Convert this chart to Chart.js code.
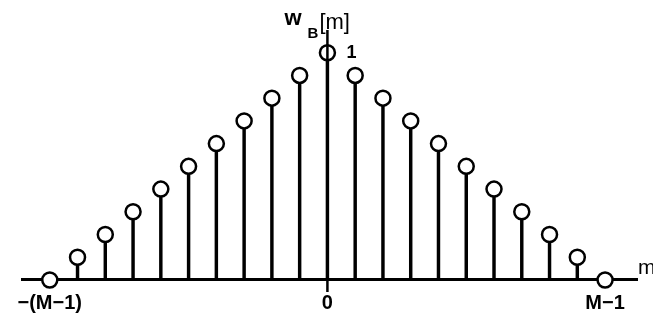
<!DOCTYPE html>
<html>
<head>
<meta charset="utf-8">
<script src="https://cdn.jsdelivr.net/npm/chart.js@4/dist/chart.umd.min.js"></script>
<style>
    body { margin: 0; background: #fff; }
    #wrap { width: 653px; height: 325px; }
</style>
</head>
<body>
<div id="wrap"><canvas id="wChart" width="653" height="325"></canvas></div>
<script>
// Bartlett window w_B[m], M = 11
const mValues = [-10, -9, -8, -7, -6, -5, -4, -3, -2, -1, 0, 1, 2, 3, 4, 5, 6, 7, 8, 9, 10];
const wValues = [0, 0.1, 0.2, 0.3, 0.4, 0.5, 0.6, 0.7, 0.8, 0.9, 1, 0.9, 0.8, 0.7, 0.6, 0.5, 0.4, 0.3, 0.2, 0.1, 0];
const tickPositions = [-10, 0, 10];
const tickLabels = ['\u2212(M\u22121)', '0', 'M\u22121'];

const font = '"Liberation Sans", Arial, sans-serif';

function points() {
    let pts = [];
    for (let i = 0; i < mValues.length; i++) {
        pts.push({x: mValues[i], y: wValues[i]});
    }
    return pts;
}

// vertical axis, axis titles and the "1" label
const axisExtras = {
    id: 'axisExtras',
    afterDatasetsDraw(chart) {
        const ctx = chart.ctx;
        const xs = chart.scales.x;
        const ys = chart.scales.y;
        const area = chart.chartArea;
        const x0 = xs.getPixelForValue(0);

        ctx.save();
        ctx.strokeStyle = '#000';
        ctx.lineWidth = 2.5;
        ctx.beginPath();
        ctx.moveTo(x0, area.top);
        ctx.lineTo(x0, area.bottom);
        ctx.stroke();

        ctx.fillStyle = '#000';
        ctx.textBaseline = 'alphabetic';
        ctx.textAlign = 'left';
        ctx.font = 'bold 22px ' + font;
        ctx.fillText('w', x0 - 43, 25);
        ctx.font = 'bold 15px ' + font;
        ctx.fillText('B', x0 - 20, 38);
        ctx.font = '22px ' + font;
        ctx.fillText('[m]', x0 - 8, 29);

        ctx.font = 'bold 18px ' + font;
        ctx.textBaseline = 'middle';
        ctx.fillText('1', x0 + 19, ys.getPixelForValue(1));

        ctx.font = '21px ' + font;
        ctx.textBaseline = 'alphabetic';
        ctx.fillText('m', area.right + 1, ys.getPixelForValue(0) - 6);
        ctx.restore();
    }
};

const data = {
    datasets: [{
            type: 'scatter',
            label: 'samples',
            data: points(),
            pointStyle: 'circle',
            pointRadius: 7.5,
            pointBorderWidth: 2.5,
            pointBorderColor: '#000',
            pointBackgroundColor: '#fff',
            order: 0
        }, {
            type: 'bar',
            label: 'stems',
            data: points(),
            backgroundColor: '#000',
            barThickness: 2.8,
            order: 1
        }]
};

const config = {
    data: data,
    options: {
        responsive: false,
        animation: false,
        layout: {padding: {left: 22, right: 16, top: 30, bottom: 33}},
        plugins: {legend: {display: false}, tooltip: {enabled: false}},
        scales: {
            x: {
                type: 'linear',
                min: -11,
                max: 11.15,
                offset: false,
                position: {y: 0},
                grid: {display: false, drawTicks: false, offset: false},
                border: {display: true, color: '#000', width: 3},
                afterBuildTicks: (scale) => {
                    scale.ticks = tickPositions.map(v => ({value: v}));
                },
                ticks: {
                    autoSkip: false,
                    maxRotation: 0,
                    padding: 12,
                    color: '#000',
                    font: {family: font, size: 20, weight: 'bold'},
                    callback: (value) => tickLabels[tickPositions.indexOf(value)]
                }
            },
            y: {
                type: 'linear',
                display: false,
                min: -0.053,
                max: 1.1
            }
        }
    },
    plugins: [axisExtras]
};

let idChart = document.getElementById('wChart').getContext('2d');
new Chart(idChart, config);
</script>
</body>
</html>
